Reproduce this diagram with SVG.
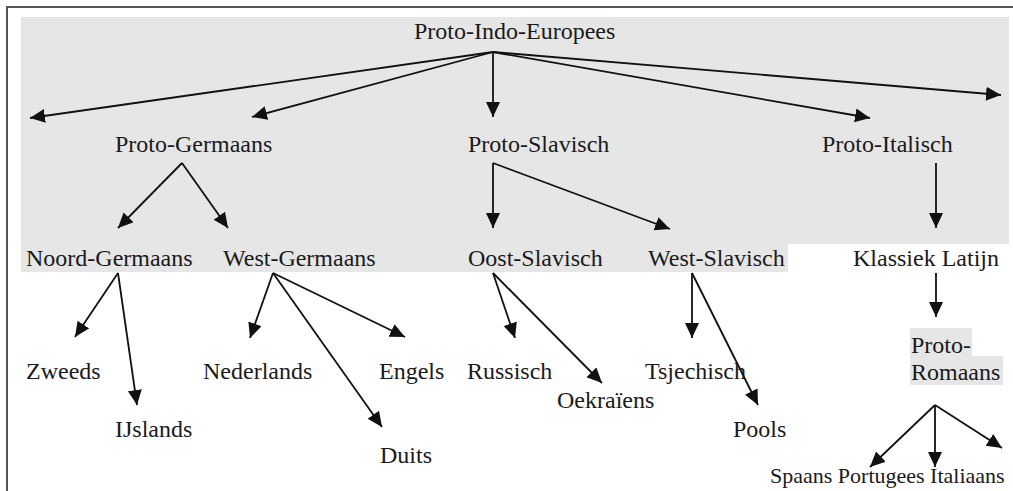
<svg xmlns="http://www.w3.org/2000/svg" width="1013" height="491" viewBox="0 0 1013 491">
<style>
text{font-family:"Liberation Serif","Times New Roman","DejaVu Serif",serif;font-size:24px;fill:#1a1a1a}
.c line{stroke:#111;stroke-width:1.8;marker-end:url(#ah)}
.hl{fill:#e6e6e6}
</style>
<defs>
<marker id="ah" markerUnits="userSpaceOnUse" markerWidth="16" markerHeight="15" refX="15" refY="7" orient="auto" viewBox="0 0 16 15">
<path d="M0,0 L15,7 L0,14 z" fill="#111"/>
</marker>
</defs>
<rect width="1013" height="491" fill="#fff"/>
<path d="M7,491 V7 H1013" fill="none" stroke="#555" stroke-width="2"/>
<path class="hl" d="M21,17 H1009 V244 H788 V272 H21 z"/>
<rect class="hl" x="910" y="328" width="62" height="28"/>
<rect class="hl" x="910" y="356" width="93" height="29"/>
<g class="c" id="connectors">
<line x1="493" y1="52" x2="30" y2="118"/>
<line x1="493" y1="52" x2="252" y2="117"/>
<line x1="493" y1="52" x2="493" y2="117"/>
<line x1="493" y1="52" x2="870" y2="118"/>
<line x1="493" y1="52" x2="1001" y2="95"/>
<line x1="182" y1="163" x2="118" y2="228"/>
<line x1="182" y1="163" x2="228" y2="228"/>
<line x1="493" y1="163" x2="493" y2="228"/>
<line x1="493" y1="163" x2="670" y2="229"/>
<line x1="936" y1="163" x2="936" y2="228"/>
<line x1="936" y1="273" x2="936" y2="317"/>
<line x1="118" y1="273" x2="75" y2="337"/>
<line x1="118" y1="273" x2="137" y2="405"/>
<line x1="273" y1="273" x2="250" y2="338"/>
<line x1="273" y1="273" x2="382" y2="427"/>
<line x1="273" y1="273" x2="405" y2="337"/>
<line x1="493" y1="273" x2="515" y2="338"/>
<line x1="493" y1="273" x2="602" y2="383"/>
<line x1="692" y1="273" x2="692" y2="338"/>
<line x1="692" y1="273" x2="758" y2="405"/>
<line x1="935" y1="405" x2="870" y2="467"/>
<line x1="935" y1="405" x2="935" y2="467"/>
<line x1="935" y1="405" x2="1002" y2="448"/>
</g>
<g id="proto-indo-europees"><text x="414" y="39">Proto-Indo-Europees</text></g>
<g id="proto-germaans"><text x="115" y="152">Proto-Germaans</text></g>
<g id="proto-slavisch"><text x="468" y="152">Proto-Slavisch</text></g>
<g id="proto-italisch"><text x="822" y="152">Proto-Italisch</text></g>
<g id="noord-germaans"><text x="26" y="266">Noord-Germaans</text></g>
<g id="west-germaans"><text x="223" y="266">West-Germaans</text></g>
<g id="oost-slavisch"><text x="468" y="266">Oost-Slavisch</text></g>
<g id="west-slavisch"><text x="648" y="266">West-Slavisch</text></g>
<g id="klassiek-latijn"><text x="853" y="266">Klassiek Latijn</text></g>
<g id="zweeds"><text x="26" y="379">Zweeds</text></g>
<g id="ijslands"><text x="115" y="437">IJslands</text></g>
<g id="nederlands"><text x="203" y="379">Nederlands</text></g>
<g id="engels"><text x="379" y="379">Engels</text></g>
<g id="duits"><text x="380" y="463">Duits</text></g>
<g id="russisch"><text x="467" y="379">Russisch</text></g>
<g id="oekraiens"><text x="557" y="408">Oekraïens</text></g>
<g id="tsjechisch"><text x="645" y="379">Tsjechisch</text></g>
<g id="pools"><text x="733" y="437">Pools</text></g>
<g id="proto-romaans"><text x="911" y="353">Proto-</text><text x="911" y="380">Romaans</text></g>
<g id="romaanse-talen"><text x="770" y="483" style="font-size:22px">Spaans Portugees Italiaans</text></g>
</svg>
